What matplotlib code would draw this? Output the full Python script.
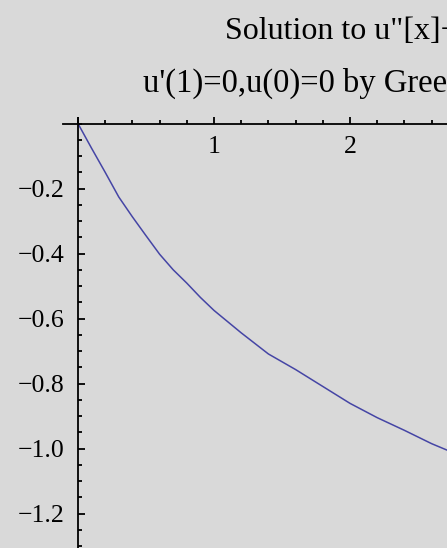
import matplotlib
matplotlib.use("Agg")
import matplotlib.pyplot as plt
from matplotlib.ticker import MultipleLocator

# solution curve u(x), sampled values
x_vals = [0.0, 0.1, 0.2, 0.3, 0.4, 0.5, 0.6, 0.7, 0.8, 0.9, 1.0, 1.2, 1.4,
          1.6, 1.8, 2.0, 2.2, 2.4, 2.6, 2.8]
u_vals = [0.0, -0.076, -0.150, -0.226, -0.287, -0.345, -0.402, -0.450,
          -0.491, -0.535, -0.575, -0.644, -0.709, -0.757, -0.809, -0.861,
          -0.905, -0.944, -0.985, -1.020]

x_ticks = [1, 2]
x_labels = ["1", "2"]
y_ticks = [-0.2, -0.4, -0.6, -0.8, -1.0, -1.2]
y_labels = ["\u22120.2", "\u22120.4", "\u22120.6", "\u22120.8", "\u22121.0", "\u22121.2"]

title_1 = "Solution to u\"[x]\u2212u[x]"
title_2 = "u'(1)=0,u(0)=0 by Green's function"

bg = "#d9d9d9"
plt.rcParams["font.family"] = ["Liberation Serif", "DejaVu Serif"]

fig = plt.figure(figsize=(4.47, 5.48), dpi=100, facecolor=bg)
ax = fig.add_axes([63 / 447, 0.0, 384 / 447, (548 - 118) / 548])
ax.set_facecolor(bg)

ax.plot(x_vals, u_vals, color="#4545a5", lw=1.1)

ax.set_xlim(-0.11, 2.713)
ax.set_ylim(-1.306, 0.017)

# Mathematica style axes crossing at the origin
for s in ["top", "right"]:
    ax.spines[s].set_visible(False)
ax.spines["left"].set_position(("data", 0))
ax.spines["bottom"].set_position(("data", 0))
ax.spines["left"].set_linewidth(1.3)
ax.spines["bottom"].set_linewidth(1.3)

ax.set_xticks([0] + x_ticks)
ax.set_xticklabels([""] + x_labels)
ax.xaxis.set_minor_locator(MultipleLocator(0.2))
ax.set_yticks(y_ticks)
ax.set_yticklabels(y_labels)
ax.yaxis.set_minor_locator(MultipleLocator(0.05))

ax.tick_params(which="both", direction="in", width=1.3, labelsize=18.5)
ax.tick_params(which="major", length=5)
ax.tick_params(which="minor", length=3)
ax.tick_params(axis="x", pad=9)
ax.tick_params(axis="y", pad=10)

fig.text(225 / 447, 1 - 39 / 548, title_1, fontsize=23, ha="left", va="baseline")
fig.text(143 / 447, 1 - 92 / 548, title_2, fontsize=23.5, ha="left", va="baseline")

fig.savefig("out.png", dpi=100, facecolor=bg)
